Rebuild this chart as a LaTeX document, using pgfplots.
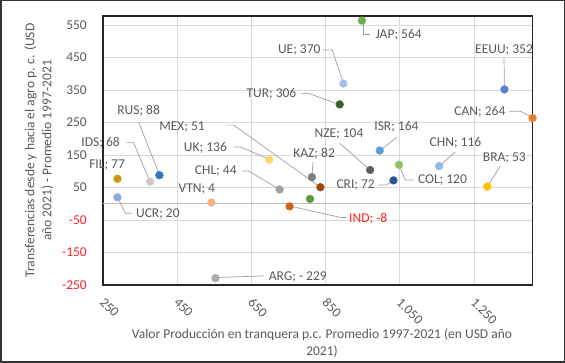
\documentclass[border=0pt]{standalone}
\usepackage{fontspec}
\setmainfont{Carlito}
\usepackage{pgfplots}
\pgfplotsset{compat=1.18}
\definecolor{txt}{HTML}{595959}
\definecolor{cJAP}{HTML}{70AD47}
\definecolor{cUE}{HTML}{9DC3E6}
\definecolor{cTUR}{HTML}{3B6126}
\definecolor{cEEUU}{HTML}{5B80CF}
\definecolor{cCAN}{HTML}{ED7D31}
\definecolor{cISR}{HTML}{5B9BD5}
\definecolor{cCHN}{HTML}{8FB8E3}
\definecolor{cCOL}{HTML}{8DC467}
\definecolor{cNZE}{HTML}{5F5F5F}
\definecolor{cKAZ}{HTML}{7F7F7F}
\definecolor{cCRI}{HTML}{2F5597}
\definecolor{cBRA}{HTML}{FFC000}
\definecolor{cMEX}{HTML}{9E480E}
\definecolor{cGRN}{HTML}{5A9A3A}
\definecolor{cCHL}{HTML}{A0A0A0}
\definecolor{cIND}{HTML}{D0651A}
\definecolor{cARG}{HTML}{ABABAB}
\definecolor{cVTN}{HTML}{F4B183}
\definecolor{cUCR}{HTML}{8FAADC}
\definecolor{cFIL}{HTML}{C59A0A}
\definecolor{cIDS}{HTML}{C9C9C9}
\definecolor{cRUS}{HTML}{2E75C2}
\definecolor{cUK}{HTML}{FFD966}
\definecolor{negred}{HTML}{FF2020}
\tikzset{lab/.style={text=txt, inner sep=0pt, anchor=center},
  leader/.style={draw=black!38, line width=0.7pt}}
\pgfplotsset{pt/.style={only marks, mark=*, mark size=3.9pt, mark options={draw=#1, fill=#1}}}
\begin{document}
\begin{tikzpicture}[font=\fontsize{13.5}{16}\selectfont]
\useasboundingbox (0,0) rectangle (565pt,363pt);
\draw[black!80, line width=1.5pt] (0.75pt,0.75pt) rectangle (564.25pt,362.25pt);
\begin{axis}[
  at={(103pt,78pt)}, anchor=south west,
  width=429.6pt, height=269pt, scale only axis,
  xmin=250, xmax=1408, ymin=-250, ymax=578,
  xtick={250,450,650,850,1050,1250},
  xticklabels={250,450,650,850,{1.050},{1.250}},
  ytick={-250,-150,-50,50,150,250,350,450,550},
  yticklabels={\textcolor{negred}{-250},\textcolor{negred}{-150},\textcolor{negred}{-50},50,150,250,350,450,550},
  extra y ticks={0}, extra y tick labels={},
  extra y tick style={grid=major, major grid style={draw=black!25, line width=0.9pt}},
  grid=major,
  major grid style={draw=black!15, line width=0.9pt},
  axis line style={draw=black!85, line width=1.3pt},
  tick style={draw=none},
  tick label style={text=txt, font=\fontsize{13.5}{16}\selectfont},
  yticklabel style={inner sep=0pt, anchor=east, xshift=-16pt},
  xticklabel style={inner sep=0pt, xshift=-1pt, yshift=-15pt, rotate=-45, anchor=west},
  clip=false,
]
% leader lines
\draw[leader] (axis cs:951,564) -- (axis cs:951,521) -- (axis cs:970,521);
\draw[leader] (axis cs:841,473) -- (axis cs:868,473) -- (axis cs:898,370);
\draw[leader] (axis cs:784,340) -- (axis cs:804,340) -- (axis cs:888,305);
\draw[leader] (axis cs:1331,448) -- (axis cs:1332,351);
\draw[leader] (axis cs:1345,285) -- (axis cs:1375,285) -- (axis cs:1408,265);
\draw[leader] (axis cs:1042,205) -- (axis cs:996,163);
\draw[leader] (axis cs:1200,160) -- (axis cs:1156,116);
\draw[leader] (axis cs:1321,116) -- (axis cs:1286,53);
\draw[leader] (axis cs:888,186) -- (axis cs:970,104);
\draw[leader] (axis cs:816,128) -- (axis cs:813,83);
\draw[leader] (axis cs:1048,120) -- (axis cs:1065,73) -- (axis cs:1087,73);
\draw[leader] (axis cs:992,58) -- (axis cs:1014,58) -- (axis cs:1033,72);
\draw[leader] (axis cs:753,-7) -- (axis cs:890,-42) -- (axis cs:906,-42);
\draw[leader] (axis cs:553,-227) -- (axis cs:685,-222);
\draw[leader] (axis cs:289,21) -- (axis cs:310,-29) -- (axis cs:328,-29);
\draw[leader] (axis cs:313,189) -- (axis cs:332,189) -- (axis cs:377,67);
\draw[leader] (axis cs:346,252) -- (axis cs:402,89);
\draw[leader] (axis cs:584,242) -- (axis cs:602,242) -- (axis cs:836,51);
\draw[leader] (axis cs:602,175) -- (axis cs:620,175) -- (axis cs:698,137);
\draw[leader] (axis cs:625,101) -- (axis cs:642,101) -- (axis cs:726,44);
% points
\addplot[pt=cJAP] coordinates {(948,564)};
\addplot[pt=cUE] coordinates {(898,370)};
\addplot[pt=cTUR] coordinates {(888,306)};
\addplot[pt=cEEUU] coordinates {(1332,352)};
\addplot[pt=cCAN] coordinates {(1408,264)};
\addplot[pt=cISR] coordinates {(996,164)};
\addplot[pt=cCHN] coordinates {(1156,116)};
\addplot[pt=cCOL] coordinates {(1048,120)};
\addplot[pt=cNZE] coordinates {(970,104)};
\addplot[pt=cKAZ] coordinates {(813,82)};
\addplot[pt=cCRI] coordinates {(1033,72)};
\addplot[pt=cBRA] coordinates {(1286,53)};
\addplot[pt=cMEX] coordinates {(836,51)};
\addplot[pt=cGRN] coordinates {(808,15)};
\addplot[pt=cCHL] coordinates {(726,44)};
\addplot[pt=cIND] coordinates {(753,-8)};
\addplot[pt=cARG] coordinates {(553,-229)};
\addplot[pt=cVTN] coordinates {(542,4)};
\addplot[pt=cUCR] coordinates {(289,20)};
\addplot[pt=cFIL] coordinates {(289,77)};
\addplot[pt=cIDS] coordinates {(377,68)};
\addplot[pt=cRUS] coordinates {(402,88)};
\addplot[pt=cUK] coordinates {(698,136)};
% labels
\node[lab] at (axis cs:1047,519) {JAP; 564};
\node[lab] at (axis cs:779,473) {UE; 370};
\node[lab] at (axis cs:704,338) {TUR; 306};
\node[lab] at (axis cs:1331,473) {EEUU; 352};
\node[lab] at (axis cs:1266,282) {CAN; 264};
\node[lab] at (axis cs:1041,236) {ISR; 164};
\node[lab] at (axis cs:1200,189) {CHN; 116};
\node[lab] at (axis cs:1332,141) {BRA; 53};
\node[lab] at (axis cs:886,215) {NZE; 104};
\node[lab] at (axis cs:819,155) {KAZ; 82};
\node[lab] at (axis cs:1165,73) {COL; 120};
\node[lab] at (axis cs:931,58) {CRI; 72};
\node[lab, text=negred] at (axis cs:965,-45) {IND; -8};
\node[lab] at (axis cs:775,-224.5) {ARG; - 229};
\node[lab] at (axis cs:503,45) {VTN; 4};
\node[lab] at (axis cs:398,-30.6) {UCR; 20};
\node[lab] at (axis cs:261,119) {FIL; 77};
\node[lab] at (axis cs:243.5,189) {IDS; 68};
\node[lab] at (axis cs:346,285) {RUS; 88};
\node[lab] at (axis cs:463,237) {MEX; 51};
\node[lab] at (axis cs:526,172.5) {UK; 136};
\node[lab] at (axis cs:554,100.8) {CHL; 44};
\end{axis}
\node[rotate=90, align=center, text=txt, font=\fontsize{13.5}{17}\selectfont] at (39pt,212.5pt) {Transferencias desde y hacia el agro p. c. (USD\\año 2021) - Promedio 1997-2021};
\node[align=center, text=txt, font=\fontsize{13.5}{16.5}\selectfont] at (322pt,20pt) {Valor Producción en tranquera p.c. Promedio 1997-2021 (en USD año\\2021)};
\end{tikzpicture}
\end{document}
